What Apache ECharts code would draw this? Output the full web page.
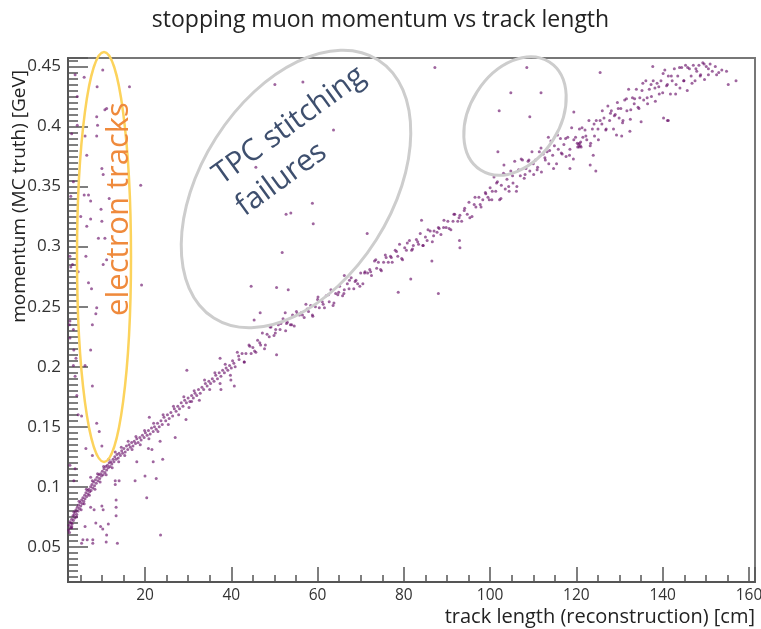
<!DOCTYPE html>
<html>
<head>
<meta charset="utf-8">
<script src="https://cdn.jsdelivr.net/npm/echarts@6/dist/echarts.min.js"></script>
<style>
html, body { margin: 0; padding: 0; background: #fff; }
#chart { width: 761px; height: 629px; }
</style>
</head>
<body>
<div id="chart"></div>
<script>
// main band of stopping muons, [track length cm, momentum GeV], short tracks
const bandShort = [
  [2.3,0.064],[2.4,0.068],[2.6,0.071],[2.7,0.066],[2.9,0.070],[3.0,0.073],[3.1,0.069],[3.3,0.076],[3.4,0.072],[3.6,0.077],
  [3.7,0.074],[3.9,0.079],[4.0,0.081],[4.2,0.077],[4.3,0.083],[4.5,0.080],[4.6,0.085],[4.8,0.082],[5.0,0.087],[5.1,0.084],
  [5.3,0.089],[5.5,0.086],[5.6,0.091],[5.8,0.088],[6.0,0.093],[6.1,0.090],[6.3,0.095],[6.5,0.092],[6.7,0.097],[6.8,0.094],
  [7.0,0.098],[7.2,0.096],[7.4,0.100],[7.5,0.097],[7.7,0.102],[7.9,0.099],[8.1,0.104],[8.3,0.101],[8.5,0.106],[8.7,0.103],
  [8.9,0.108],[9.1,0.105],[9.3,0.110],[9.5,0.107],[9.7,0.111],[9.9,0.109],[10.1,0.113],[10.3,0.110],[10.5,0.115],[10.7,0.112],
  [10.9,0.117],[11.1,0.114],[11.3,0.118],[11.5,0.116],[11.7,0.120],[11.9,0.117],
  [12.1,0.121],[12.3,0.119],[12.6,0.123],[12.8,0.121],[13.0,0.125],[13.3,0.123],[13.5,0.127],[13.8,0.124],[14.0,0.128],[14.3,0.126],
  [14.6,0.130],[14.8,0.128],[15.1,0.132],[15.4,0.129],[15.7,0.134],[16.0,0.131],[16.3,0.135],[16.6,0.133],[16.9,0.137],[17.2,0.134],
  [17.5,0.138],[17.8,0.136],[18.1,0.140],[18.4,0.137],[18.8,0.141],[19.1,0.139],[19.4,0.143],[19.8,0.141],[20.1,0.145],[20.5,0.143],
  [20.8,0.147],[21.2,0.144],[21.5,0.149],[21.9,0.146],[22.2,0.150],[22.6,0.148],[22.9,0.153],[23.3,0.150],[23.7,0.155],[24.0,0.152],
  [24.4,0.158],[24.8,0.155],[25.2,0.160],[25.6,0.157],[26.0,0.162],[26.4,0.159],[26.8,0.165],[27.2,0.163],[27.6,0.167],[28.0,0.165],
  [28.4,0.170],[28.8,0.167],[29.2,0.172],[29.6,0.170],[30.0,0.174],[30.4,0.171],[30.8,0.176],[31.2,0.174],[31.6,0.178],[32.0,0.176],
  [32.4,0.181],[32.8,0.178],[33.2,0.183],[33.6,0.181],[34.0,0.186],[34.4,0.184],[34.8,0.188],[35.2,0.186],[35.6,0.190],[36.0,0.188],
  [36.4,0.193],[36.8,0.190],[37.2,0.195],[37.6,0.192],[38.0,0.197],[38.4,0.195],[38.8,0.199],[39.2,0.197],[39.6,0.201],[40.0,0.199]
];

// looser edge of the band, short tracks
const bandShortEdge = [
  [2.5,0.062],[3.0,0.066],[3.5,0.079],[4.1,0.075],[4.7,0.088],[5.2,0.081],[5.9,0.086],[6.4,0.098],[7.1,0.093],[7.8,0.105],
  [8.4,0.098],[9.0,0.111],[9.6,0.104],[10.4,0.117],[11.0,0.110],[11.6,0.123],[12.4,0.116],[13.1,0.129],[13.9,0.121],[14.5,0.133],
  [15.3,0.126],[16.1,0.138],[17.0,0.131],[17.9,0.142],[18.9,0.135],[19.9,0.147],[20.9,0.140],[22.0,0.153],[23.0,0.146],[24.2,0.160],
  [25.4,0.152],[26.6,0.167],[27.8,0.160],[29.0,0.175],[30.2,0.166],[31.4,0.180],[32.6,0.172],[33.8,0.189],[35.0,0.181],[36.2,0.195],
  [37.4,0.186],[38.6,0.202],[39.8,0.193]
];

// main band, longer tracks
const bandLong = [
  [40.3,0.205],[40.9,0.200],[41.4,0.212],[41.8,0.206],[42.5,0.211],[43.0,0.204],[43.4,0.211],[44.1,0.218],[44.6,0.211],[45.0,0.216],
  [45.7,0.212],[46.1,0.222],[46.8,0.218],[47.2,0.228],[47.7,0.215],[48.3,0.227],[48.8,0.225],[49.2,0.233],[49.9,0.226],[50.3,0.231],
  [50.9,0.235],[51.3,0.231],[52.0,0.240],[52.6,0.230],[53.0,0.237],[53.7,0.235],[54.2,0.243],[54.6,0.234],[55.3,0.244],[55.8,0.243],
  [56.2,0.245],[56.9,0.241],[57.3,0.252],[57.9,0.246],[58.4,0.251],[58.8,0.243],[59.5,0.250],[60.0,0.256],[60.4,0.249],[61.1,0.254],
  [61.6,0.249],[62.0,0.259],[62.7,0.254],[63.1,0.264],[63.6,0.251],[64.2,0.261],[64.7,0.260],[65.1,0.267],[65.8,0.259],[66.2,0.264],
  [66.9,0.269],[67.3,0.265],[67.8,0.274],[68.4,0.265],[68.9,0.272],[69.3,0.269],[70.0,0.278],[70.5,0.269],[70.9,0.278],[71.6,0.278],
  [72.1,0.281],[72.5,0.276],[73.2,0.288],[73.7,0.282],[74.1,0.287],[74.8,0.280],[75.3,0.287],[75.7,0.293],[76.4,0.287],[76.9,0.292],
  [77.3,0.287],[78.0,0.297],[78.6,0.292],[79.0,0.302],[79.7,0.289],[80.2,0.299],[80.6,0.297],[81.3,0.305],[81.8,0.297],[82.2,0.301],
  [82.9,0.306],[83.4,0.302],[83.8,0.311],[84.5,0.301],[85.0,0.308],[85.4,0.305],[86.1,0.313],[86.6,0.304],[87.0,0.313],[87.7,0.312],
  [88.2,0.315],[88.6,0.310],[89.3,0.322],[89.8,0.316],[90.2,0.321],[90.9,0.314],[91.4,0.321],[91.8,0.327],[92.5,0.321],[93.0,0.326],
  [93.4,0.321],[94.1,0.332],[94.7,0.327],[95.1,0.337],[95.8,0.325],[96.3,0.335],[96.7,0.333],[97.4,0.341],[97.9,0.333],[98.3,0.339],
  [99.0,0.344],[99.5,0.341],
  [100.0,0.349],[100.4,0.339],[100.9,0.358],[101.3,0.346],[101.7,0.354],[102.2,0.339],[102.6,0.351],[103.1,0.361],[103.5,0.348],[103.9,0.356],
  [104.4,0.346],[104.8,0.363],[105.3,0.353],[105.7,0.371],[106.1,0.346],[106.6,0.364],[107.0,0.359],[107.5,0.372],[107.9,0.357],[108.3,0.365],
  [108.8,0.371],[109.2,0.363],[109.7,0.379],[110.1,0.360],[110.5,0.372],[111.0,0.366],[111.4,0.379],[111.9,0.362],[112.3,0.377],[112.7,0.374],
  [113.2,0.379],[113.6,0.369],[114.1,0.388],[114.5,0.376],[114.9,0.384],[115.4,0.369],[115.8,0.381],[116.3,0.390],[116.7,0.377],[117.1,0.385],
  [117.6,0.375],[118.0,0.391],[118.5,0.381],[118.9,0.399],[119.3,0.373],[119.8,0.391],[120.2,0.386],[120.7,0.398],[121.1,0.383],[121.5,0.391],
  [122.0,0.397],[122.4,0.389],[122.9,0.405],[123.3,0.386],[123.7,0.398],[124.2,0.392],[124.6,0.405],[125.1,0.389],[125.5,0.405],[125.9,0.402],
  [126.4,0.407],[126.8,0.397],[127.3,0.417],[127.7,0.405],[128.1,0.413],[128.6,0.398],[129.0,0.410],[129.5,0.420],[129.9,0.407],[130.3,0.415],
  [130.8,0.405],[131.2,0.422],[131.7,0.413],[132.1,0.431],[132.5,0.406],[133.0,0.424],[133.4,0.419],[133.9,0.431],[134.3,0.416],[134.7,0.424],
  [135.2,0.430],[135.6,0.422],[136.1,0.438],[136.5,0.419],[136.9,0.431],[137.4,0.425],[137.8,0.438],[138.3,0.421],[138.7,0.436],[139.1,0.433],
  [139.6,0.438],[140.0,0.428],[140.5,0.447],[140.9,0.434],[141.3,0.442],[141.8,0.427],[142.2,0.438],[142.7,0.448],[143.1,0.435],[143.5,0.442],
  [144.0,0.432],[144.4,0.449],[144.9,0.438],[145.3,0.451],[145.7,0.430],[146.2,0.448],[146.6,0.442],[147.1,0.451],[147.5,0.438],[147.9,0.446],
  [148.4,0.451],[148.8,0.443],[149.3,0.453],[149.7,0.439],[150.1,0.450],[150.6,0.443],[151.0,0.452],[151.5,0.446],[152.2,0.450],[153.0,0.445]
];

// second pass over the long-track band
const bandLongEdge = [
  [40.6,0.203],[41.7,0.209],[43.0,0.204],[44.3,0.217],[45.4,0.213],[46.6,0.220],[47.9,0.218],[49.0,0.233],[50.2,0.228],[51.5,0.236],
  [52.8,0.236],[54.0,0.235],[55.1,0.246],[56.5,0.243],[57.6,0.248],[58.9,0.242],[60.1,0.258],[61.3,0.252],[62.5,0.260],[63.8,0.253],
  [64.9,0.262],[66.1,0.261],[67.4,0.272],[68.7,0.271],[69.8,0.267],[71.0,0.279],[72.3,0.279],[73.5,0.289],[74.6,0.281],[75.9,0.291],
  [77.1,0.291],[78.3,0.296],[79.5,0.290],[80.8,0.303],[82.0,0.298],[83.2,0.304],[84.4,0.301],[85.6,0.314],[86.9,0.309],[88.0,0.316],
  [89.2,0.316],[90.5,0.315],[91.6,0.327],[92.8,0.324],[94.0,0.330],[95.3,0.324],[96.5,0.341],[97.7,0.335],[98.9,0.345],[99.8,0.339],
  [100.5,0.346],[101.5,0.353],[102.5,0.340],[103.4,0.360],[104.3,0.350],[105.2,0.359],[106.2,0.350],[107.2,0.373],[108.1,0.360],[109.0,0.372],
  [110.0,0.369],[110.9,0.364],[111.8,0.382],[112.8,0.372],[113.8,0.380],[114.7,0.365],[115.6,0.393],[116.5,0.378],[117.5,0.390],[118.4,0.376],
  [119.4,0.389],[120.3,0.383],[121.3,0.399],[122.2,0.392],[123.2,0.384],[124.1,0.402],[125.0,0.398],[126.0,0.413],[126.9,0.398],[127.9,0.411],
  [128.8,0.409],[129.7,0.415],[130.7,0.403],[131.6,0.423],[132.6,0.414],[133.5,0.423],[134.5,0.415],[135.4,0.436],[136.4,0.424],[137.3,0.435],
  [138.2,0.432],[139.2,0.427],[140.1,0.444],[141.1,0.435],[142.0,0.442],[143.0,0.427],[143.9,0.449],[144.9,0.438],[145.8,0.449],[146.8,0.436],
  [147.7,0.448],[148.7,0.442],[149.6,0.452],[150.6,0.448],
  [120.5,0.385],[120.7,0.386],[120.9,0.384],[121.0,0.387],[120.6,0.383]
];

// short tracks far above the band (electrons)
const electronPoints = [
  [10.2,0.447],[3.8,0.443],[5.9,0.441],[8.9,0.433],[16.4,0.433],[4.3,0.425],[11.1,0.415],[10.7,0.414],[8.8,0.408],[9.0,0.401],
  [4.3,0.401],[3.0,0.394],[6.1,0.392],[8.8,0.392],[6.5,0.376],[10.0,0.365],[10.3,0.360],[3.4,0.354],[19.0,0.351],[5.9,0.343],
  [6.9,0.343],[11.7,0.340],[7.4,0.338],[9.8,0.331],[5.1,0.325],[7.4,0.323],[10.0,0.321],[6.5,0.317],[9.2,0.307],[10.7,0.307],
  [2.6,0.292],[6.3,0.292],[11.1,0.289],[3.2,0.285],[10.3,0.285],[4.5,0.279],[6.9,0.270],[19.2,0.268],[7.6,0.265],[8.8,0.249],
  [8.6,0.244],[2.5,0.235],[3.4,0.231],[2.6,0.224],[7.4,0.214],[3.5,0.214],[4.0,0.207],[3.4,0.201],[6.1,0.201],[3.8,0.192],
  [7.8,0.184],[4.2,0.176],[4.5,0.160],[5.3,0.159],[8.8,0.153],[9.4,0.146],[10.0,0.134],[6.3,0.132],[7.8,0.126],[2.6,0.118],
  [3.8,0.115],[3.5,0.105],[7.4,0.108],[2.8,0.342],[2.8,0.283],[2.6,0.238],[7.8,0.235]
];

// points below the band at short lengths
const lowPoints = [
  [13.1,0.105],[14.0,0.105],[13.1,0.102],[17.7,0.105],[20.0,0.109],[22.6,0.107],[18.1,0.121],[21.9,0.121],[24.1,0.123],[20.8,0.132],
  [21.6,0.131],[23.5,0.138],[27.0,0.141],[29.5,0.156],[21.0,0.158],[20.4,0.091],[13.3,0.089],[7.4,0.083],[8.2,0.081],[10.0,0.084],
  [10.3,0.081],[13.3,0.083],[13.3,0.076],[8.6,0.070],[11.5,0.069],[6.1,0.067],[9.7,0.067],[10.2,0.065],[11.1,0.060],[23.6,0.060],
  [5.6,0.056],[6.6,0.056],[7.9,0.056],[7.9,0.053],[5.3,0.053],[11.0,0.054],[13.6,0.053],[3.0,0.067]
];

// stitching failures and other scattered points
const strayPoints = [
  [29.7,0.197],[44.6,0.267],[50.5,0.266],[53.2,0.264],[46.7,0.245],[45.3,0.239],[52.5,0.245],[50.5,0.210],[37.4,0.207],[39.9,0.189],
  [40.7,0.184],[37.6,0.181],[30.8,0.171],[51.8,0.295],[81.6,0.273],[78.7,0.262],[66.2,0.276],[50.1,0.435],[56.6,0.437],[63.7,0.397],
  [45.7,0.366],[58.8,0.336],[52.7,0.327],[53.8,0.328],[59.0,0.319],[71.5,0.311],[84.1,0.322],[87.2,0.449],[108.5,0.449],[125.5,0.445],
  [137.7,0.450],[104.8,0.428],[111.8,0.428],[102.1,0.413],[109.2,0.408],[119.4,0.412],[101.8,0.379],[103.2,0.368],[113.5,0.391],[86.5,0.288],
  [88.0,0.261],[124.5,0.363],[123.2,0.368],[118.5,0.365],[123.9,0.376],[155.2,0.435],[157.0,0.438],[154.8,0.446],[153.7,0.447],[141.1,0.405],
  [140.2,0.407],[152.5,0.443],[141.3,0.405],[130.5,0.392],[132.4,0.396],[129.3,0.393],[135.0,0.404],[93.0,0.299],[92.9,0.305]
];

const xTickLabels = [20, 40, 60, 80, 100, 120, 140, 160];
const xRange = [2.15, 161.4];
const yRange = [0.0208, 0.457];

const chart = echarts.init(document.getElementById('chart'));
const frame = '#555';
const labelFont = 'Open Sans';

const allPoints = [].concat(bandShort, bandShortEdge, bandLong, bandLongEdge, electronPoints, lowPoints, strayPoints);

const option = {
  animation: false,
  title: {
    text: 'stopping muon momentum vs track length',
    left: 'center',
    top: 4,
    textStyle: { fontFamily: labelFont, fontSize: 23, fontWeight: 'normal', color: '#222' }
  },
  grid: {
    left: 68, top: 58, right: 6, bottom: 47,
    outerBoundsMode: 'none',
    show: true, borderColor: '#777', borderWidth: 2
  },
  xAxis: {
    type: 'value',
    min: xRange[0], max: xRange[1],
    splitNumber: 8,
    axisLine: { show: true, onZero: false, lineStyle: { color: frame, width: 2 } },
    axisTick: { show: true, inside: true, length: 15, lineStyle: { color: frame, width: 1.5 } },
    minorTick: { show: true, splitNumber: 4, length: 7, lineStyle: { color: frame, width: 1.5 } },
    splitLine: { show: false },
    axisLabel: {
      margin: 6, fontFamily: labelFont, fontSize: 15.5, color: '#333',
      customValues: xTickLabels,
      showMaxLabel: true
    }
  },
  yAxis: {
    type: 'value',
    min: yRange[0], max: yRange[1],
    splitNumber: 9,
    axisLine: { show: true, onZero: false, lineStyle: { color: frame, width: 2 } },
    axisTick: { show: true, inside: true, length: 20, lineStyle: { color: frame, width: 1.5 } },
    minorTick: { show: true, splitNumber: 10, length: 10, lineStyle: { color: frame, width: 1.5 } },
    splitLine: { show: false },
    axisLabel: {
      margin: 7, fontFamily: labelFont, fontSize: 17, color: '#333',
      formatter: function (v) {
        const k = Math.round(v / 0.05);
        return Math.abs(v - k * 0.05) < 1e-6 ? String(+(k * 0.05).toFixed(2)) : '';
      }
    }
  },
  series: [{
    type: 'scatter',
    data: allPoints,
    symbol: 'circle',
    symbolSize: 3,
    itemStyle: { color: 'rgba(105, 15, 105, 0.8)' }
  }],
  graphic: [
    {
      type: 'ellipse', x: 104, y: 257, z: 100,
      shape: { cx: 0, cy: 0, rx: 27, ry: 205 },
      style: { fill: 'none', stroke: '#fcd35c', lineWidth: 2.5 }
    },
    {
      type: 'ellipse', x: 296, y: 189, rotation: -0.567, z: 100,
      shape: { cx: 0, cy: 0, rx: 95, ry: 153 },
      style: { fill: 'none', stroke: '#cdcdcd', lineWidth: 3 }
    },
    {
      type: 'ellipse', x: 515, y: 116, rotation: -0.567, z: 100,
      shape: { cx: 0, cy: 0, rx: 45, ry: 64 },
      style: { fill: 'none', stroke: '#cdcdcd', lineWidth: 3 }
    },
    {
      type: 'text', x: 119, y: 209, rotation: Math.PI / 2, z: 101,
      style: {
        text: 'electron tracks', fill: '#ef8a3c',
        font: '31px "Open Sans"',
        align: 'center', verticalAlign: 'middle', textAlign: 'center', textVerticalAlign: 'middle'
      }
    },
    {
      type: 'text', x: 228, y: 194, rotation: 0.628, z: 101,
      style: {
        text: 'TPC stitching\nfailures', fill: '#3e4f6e',
        font: '30px "Open Sans"', lineHeight: 39,
        align: 'left', verticalAlign: 'middle', textAlign: 'left', textVerticalAlign: 'middle'
      }
    },
    {
      type: 'text', x: 20, y: 70, rotation: Math.PI / 2, z: 101,
      style: {
        text: 'momentum (MC truth) [GeV]', fill: '#222',
        font: '19px "Open Sans"',
        align: 'right', verticalAlign: 'middle', textAlign: 'right', textVerticalAlign: 'middle'
      }
    },
    {
      type: 'text', x: 755, y: 617, z: 101,
      style: {
        text: 'track length (reconstruction) [cm]', fill: '#222',
        font: '20px "Open Sans"',
        align: 'right', verticalAlign: 'middle', textAlign: 'right', textVerticalAlign: 'middle'
      }
    }
  ]
};

chart.setOption(option);
</script>
</body>
</html>
